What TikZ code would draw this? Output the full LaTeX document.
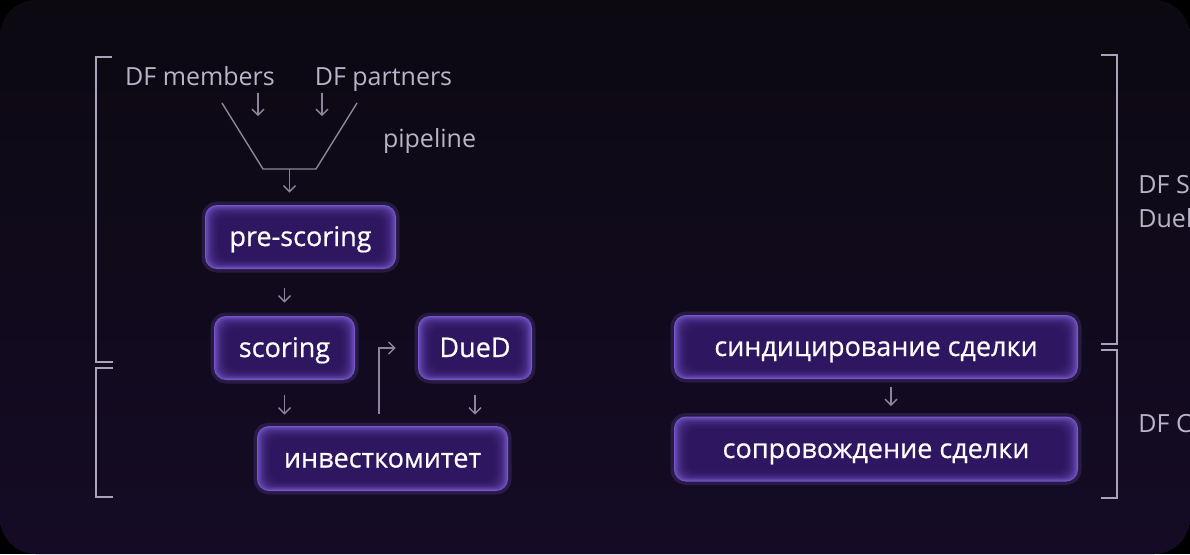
\documentclass[tikz,border=0pt]{standalone}
\usepackage{fontspec}
\setmainfont{Open Sans}
\newfontfamily\boxfont[FakeBold=0.6]{Open Sans}
\usetikzlibrary{arrows.meta,positioning}
\definecolor{cardtop}{RGB}{12,9,17}
\definecolor{cardbottom}{RGB}{21,11,38}
\definecolor{boxedge}{RGB}{118,86,200}
\definecolor{boxcore}{RGB}{42,20,90}
\definecolor{linegray}{RGB}{140,134,156}
\definecolor{bracketgray}{RGB}{170,164,186}
\definecolor{labelgray}{RGB}{186,180,200}

\begin{document}
\begin{tikzpicture}[x=0.5pt, y=-0.5pt,
		>={Straight Barb[length=3pt,width=6pt]},   % pfeilspitzen wie im original
		conn/.style={draw=linegray, line width=0.7pt},
		bracket/.style={draw=bracketgray, line width=0.8pt},
		graytext/.style={text=labelgray, inner sep=0pt, font=\fontsize{12.5}{15}\selectfont},
		boxsize/.style 2 args={minimum width=#1*0.5pt, minimum height=#2*0.5pt},
		stage/.style={rounded corners=6pt, fill=boxedge, text=white, inner sep=0pt,
			text height=9pt, text depth=0pt,
			font=\boxfont\fontsize{13.5}{16}\selectfont,
			preaction={draw=boxedge, draw opacity=0.22, line width=3.5pt},
			path picture={
				\foreach \k in {1,...,12}
					\fill[boxcore, opacity=0.2, rounded corners=5pt]
						([shift={(\k*0.6pt,-\k*0.55pt)}]path picture bounding box.north west) rectangle
						([shift={(-\k*0.6pt,\k*0.45pt)}]path picture bounding box.south east);
			}},
	]
	% hintergrund
	\useasboundingbox (0,0) rectangle (1190,554);
	\fill[black] (0,0) rectangle (1190,554);
	\shade[rounded corners=18pt, top color=cardtop, bottom color=cardbottom] (0,0) rectangle (1190,554);

	% quellen und trichter
	\node[graytext, anchor=base] (members) at (200,85) {DF members};
	\node[graytext, anchor=base] (partners) at (383.5,85) {DF partners};
	\node[graytext, anchor=base] (pipeline) at (429.5,147) {pipeline};
	\coordinate (m1) at (258,93);
	\coordinate (p1) at (322,93);
	\draw[->, conn] (m1) -- ++(0,23);
	\draw[->, conn] (p1) -- ++(0,23);
	\coordinate (funnel) at (289.5,169);
	\draw[conn] (222,103) -- (263,169) -- (316,169) -- (357,103);

	% stufen
	\node[stage, boxsize={191}{64}] (pre) at (300.5,237) {pre-scoring};
	\node[stage, boxsize={141}{64}] (scoring) at (284.5,348) {scoring};
	\node[stage, boxsize={114}{64}] (dued) at (475,348) {DueD};
	\node[stage, boxsize={251}{65}] (invest) at (382.5,458.5) {инвесткомитет};
	\node[stage, boxsize={404}{64}] (synd) at (876,347) {синдицирование сделки};
	\node[stage, boxsize={404}{65}] (escort) at (876,449) {сопровождение сделки};

	% pfeile
	\draw[->, conn, shorten >=6pt] (funnel) -- (funnel |- pre.north);
	\draw[->, conn, shorten <=9.5pt, shorten >=6.5pt] (pre.south -| scoring.north) -- (scoring.north);
	\draw[->, conn, shorten <=7.5pt, shorten >=5.5pt] (scoring.south) -- (scoring.south |- invest.north);
	\draw[->, conn, shorten <=7.5pt, shorten >=5.5pt] (dued.south) -- (dued.south |- invest.north);
	\draw[->, conn, shorten <=6pt, shorten >=11pt] ([xshift=-1.75pt]invest.north) |- (dued.west);
	\draw[->, conn, shorten <=4pt, shorten >=5pt] ([xshift=7.5pt]synd.south) -- ([xshift=7.5pt]synd.south |- escort.north);

	% klammern
	\draw[bracket] (112,57) -- (96,57) -- (96,362) -- (113,362);
	\draw[bracket] (113,368) -- (96,368) -- (96,497) -- (113,497);
	\draw[bracket] (1101,55) -- (1117,55) -- (1117,344) -- (1101,344);
	\draw[bracket] (1101,350) -- (1117,350) -- (1117,498) -- (1101,498);

	% beschriftung rechts (abgeschnitten wie im original)
	\begin{scope}
		\clip (0,0) rectangle (1190,554);
		\node[graytext, anchor=base west] (groupa) at (1138,193) {DF Scoring};
		\node[graytext, anchor=base west] (groupb) at (1138,227) {Duel};
		\node[graytext, anchor=base west] (groupc) at (1138,432) {DF Club};
	\end{scope}
\end{tikzpicture}
\end{document}
